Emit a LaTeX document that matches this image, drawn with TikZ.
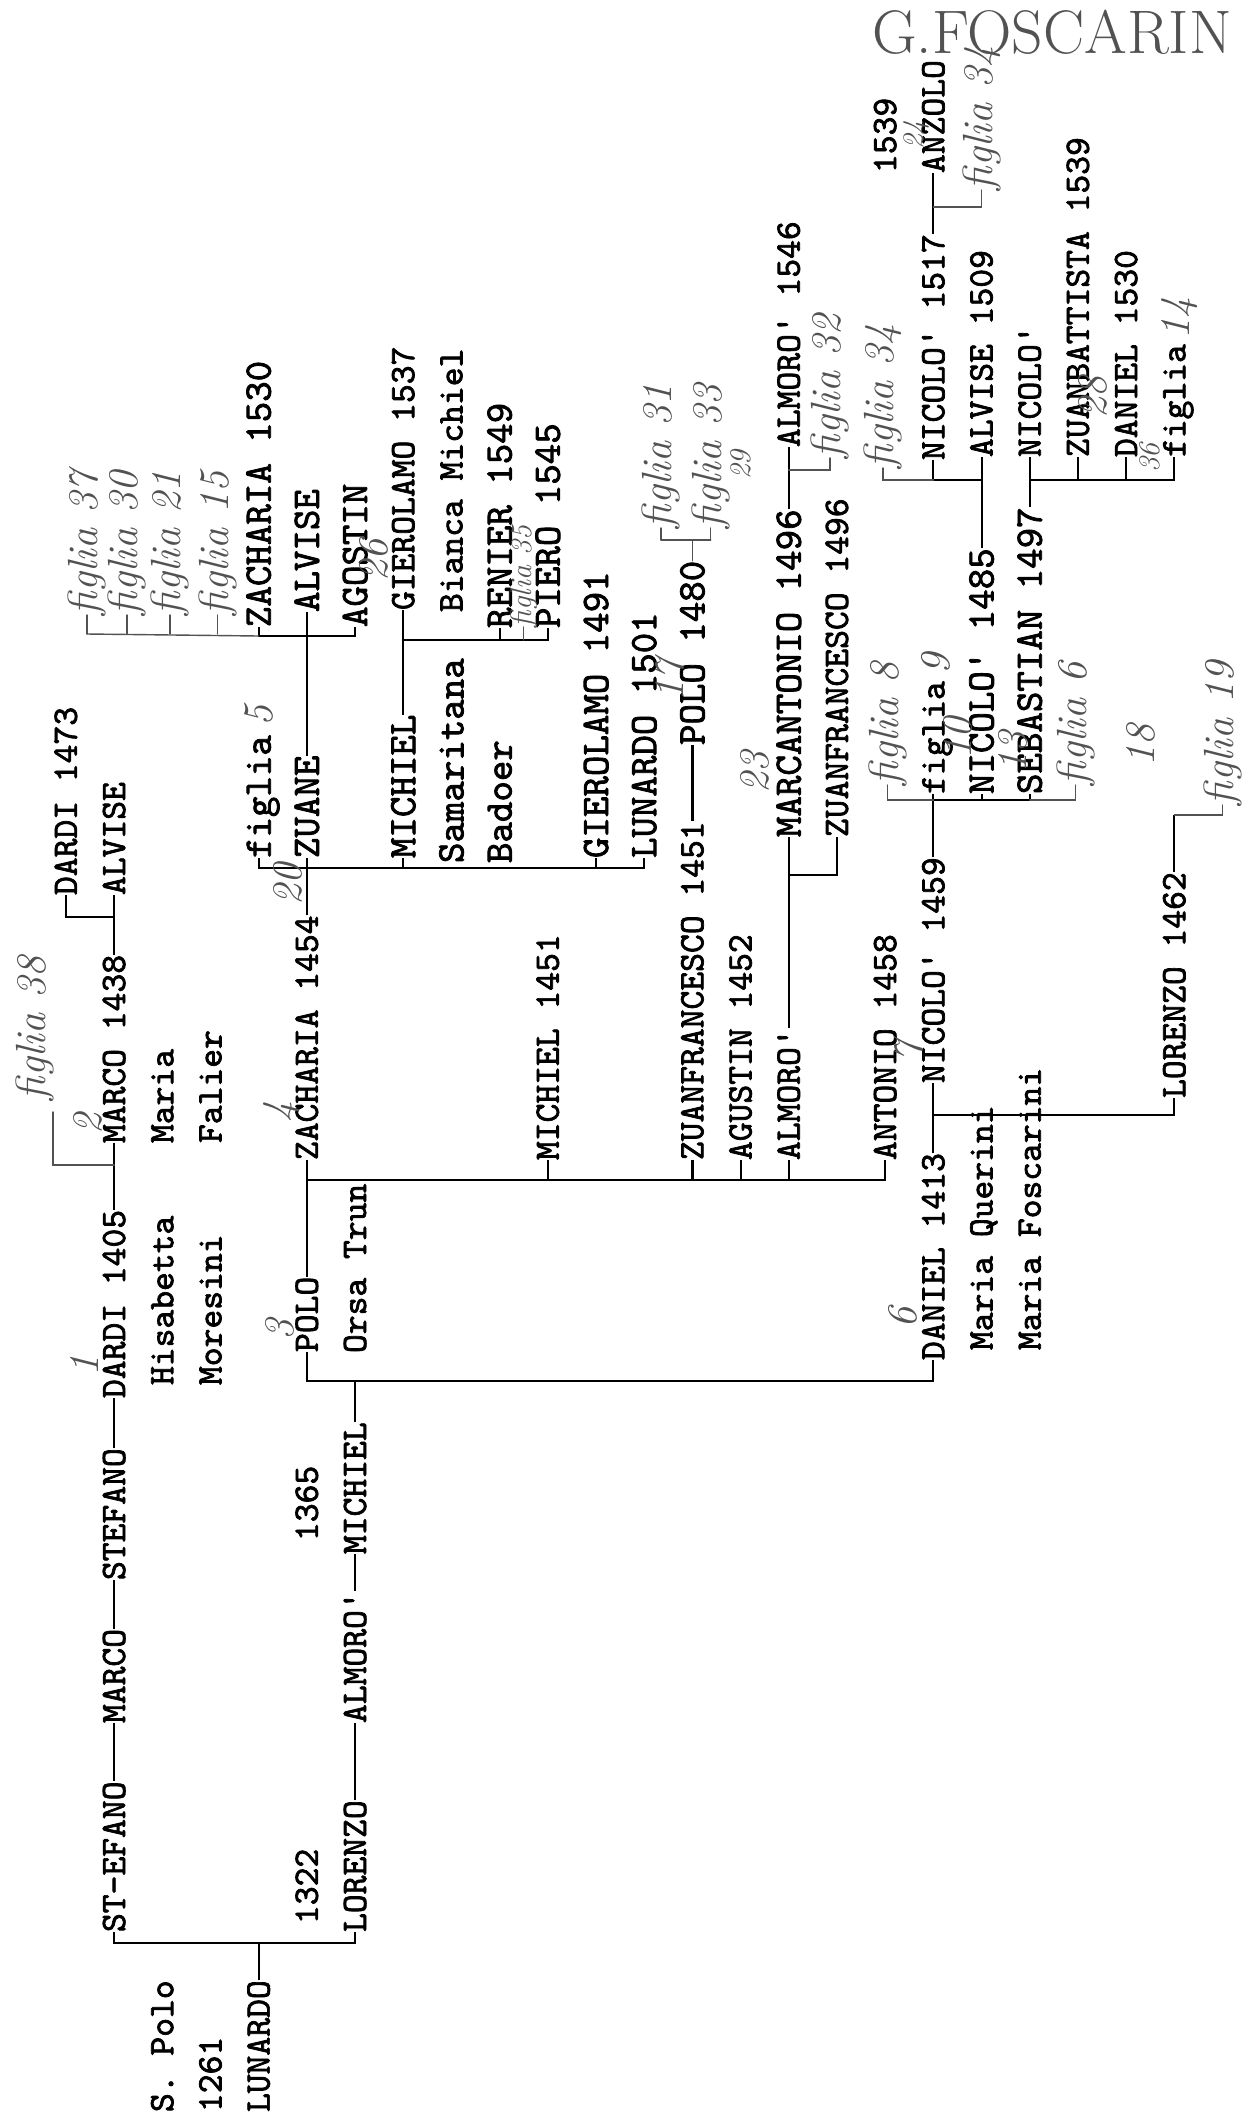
\documentclass[tikz,border=0pt]{standalone}
\usepackage{fontspec}
\newfontfamily\typer{lmmono10-regular.otf}[FakeBold=2]
\definecolor{penink}{gray}{0.32}

\tikzset{
  typed/.style={rotate=90, anchor=west, inner sep=0pt, outer sep=0pt,
    text height=12.4pt, text depth=0pt,
    font=\typer\fontsize{20.4pt}{24pt}\selectfont},
  bigtyped/.style={typed, text height=13.6pt,
    font=\typer\fontsize{22.2pt}{26pt}\selectfont},
  tline/.style={line width=1.2pt},
  pen/.style={draw=penink, line width=0.8pt, line cap=round},
  hand/.style={rotate=90, inner sep=0pt, outer sep=0pt, text=penink,
    font=\itshape\fontsize{24pt}{26pt}\selectfont},
  smallhand/.style={hand, font=\itshape\fontsize{17pt}{19pt}\selectfont},
}

\begin{document}
\begin{tikzpicture}[x=0.964cm, y=-0.02cm]
  \useasboundingbox (-1.369,0) rectangle (24.502,2117);

  % -- first sheet
  \node[typed] (spolo)     at (2,2112) {S. Polo};
  \node[typed] (yearA)     at (3,2112) {1261};
  \node[typed] (lunardoA)  at (4,2112) {LUNARDO};
  \node[typed] (stefanoA)  at (1,1932) {ST-EFANO};
  \node[typed] (marcoA)    at (1,1723) {MARCO};
  \node[typed] (stefanoB)  at (1,1580) {STEFANO};
  \node[typed] (dardiA)    at (1,1398) {DARDI 1405};
  \node[typed] (marcoB)    at (1,1143) {MARCO 1438};
  \node[typed] (alviseA)   at (1,895)  {ALVISE};
  \node[typed] (dardiB)    at (0,895)  {DARDI 1473};
  \node[typed] (hisabetta) at (2,1385) {Hisabetta};
  \node[typed] (moresini)  at (3,1385) {Moresini};
  \node[typed] (mariaA)    at (2,1143) {Maria};
  \node[typed] (falier)    at (3,1143) {Falier};
  \node[typed] (yearB)     at (5,1924) {1322};
  \node[typed] (yearC)     at (5,1541) {1365};
  \node[typed] (poloA)     at (5,1352) {POLO};
  \node[typed] (zachariaA) at (5,1160) {ZACHARIA 1454};
  \node[typed] (lorenzoA)  at (6,1932) {LORENZO};
  \node[typed] (almoroA)   at (6,1723) {ALMORO'};
  \node[typed] (michielA)  at (6,1554) {MICHIEL};
  \node[typed] (orsa)      at (6,1353) {Orsa Trun};

  \node[typed] (michielB)  at (10,1160) {MICHIEL 1451};
  \node[typed] (zuanfrA)   at (13,1160) {ZUANFRANCESCO 1451};
  \node[typed] (agustin)   at (14,1160) {AGUSTIN 1452};
  \node[typed] (almoroB)   at (15,1160) {ALMORO'};
  \node[typed] (antonio)   at (17,1160) {ANTONIO 1458};
  \node[typed] (danielA)   at (18,1360) {DANIEL 1413};
  \node[typed] (nicoloA)   at (18,1083) {NICOLO' 1459};
  \node[typed] (querini)   at (19,1350) {Maria Querini};
  \node[typed] (foscarini) at (20,1350) {Maria Foscarini};
  \node[typed] (lorenzoB)  at (23,1098) {LORENZO 1462};

  % -- later sheets
  \node[bigtyped] (figliaA)    at (4,858)  {figlia};
  \node[bigtyped] (zuane)      at (5,858)  {ZUANE};
  \node[bigtyped] (michielC)   at (7,858)  {MICHIEL};
  \node[bigtyped] (samaritana) at (8,863)  {Samaritana};
  \node[typed]    (bianca)     at (8,612)  {Bianca Michiel};
  \node[bigtyped] (badoer)     at (9,863)  {Badoer};
  \node[bigtyped] (gierolamoA) at (11,858) {GIEROLAMO 1491};
  \node[bigtyped] (lunardoB)   at (12,858) {LUNARDO 1501};
  \node[bigtyped] (zachariaB)  at (4,627)  {ZACHARIA 1530};
  \node[bigtyped] (alviseB)    at (5,612)  {ALVISE};
  \node[bigtyped] (agostin)    at (6,627)  {AGOSTIN};
  \node[typed]    (gierolamoB) at (7,610)  {GIEROLAMO 1537};
  \node[bigtyped] (renier)     at (9,628)  {RENIER 1549};
  \node[bigtyped] (piero)      at (10,628) {PIERO 1545};
  \node[bigtyped] (poloB)      at (13,745) {POLO 1480};
  \node[bigtyped] (marcant)    at (15,837) {MARCANTONIO 1496};
  \node[typed]    (almoroC)    at (15,447) {ALMORO' 1546};
  \node[typed]    (zuanfrB)    at (16,837) {ZUANFRANCESCO 1496};
  \node[typed]    (figliaB)    at (18,794) {figlia};
  \node[bigtyped] (nicoloB)    at (19,794) {NICOLO' 1485};
  \node[bigtyped] (sebastian)  at (20,794) {SEBASTIAN 1497};
  \node[typed]    (nicoloC)    at (18,460) {NICOLO' 1517};
  \node[typed]    (alviseC)    at (19,457) {ALVISE 1509};
  \node[typed]    (nicoloD)    at (20,457) {NICOLO'};
  \node[typed]    (zuanbatt)   at (21,457) {ZUANBATTISTA 1539};
  \node[typed]    (danielB)    at (22,457) {DANIEL 1530};
  \node[typed]    (figliaC)    at (23,457) {figlia};
  \node[typed]    (yearD)      at (17,173) {1539};
  \node[typed]    (anzolo)     at (18,173) {ANZOLO};

  % -- father to son on one line
  \foreach \a/\b in {stefanoA/marcoA, marcoA/stefanoB, stefanoB/dardiA,
      dardiA/marcoB, marcoB/alviseA, lorenzoA/almoroA, almoroA/michielA,
      poloA/zachariaA, zachariaA/zuane, zuane/alviseB, michielC/gierolamoB,
      zuanfrA/poloB, almoroB/marcant, marcant/almoroC, danielA/nicoloA,
      nicoloA/figliaB, nicoloB/alviseC, sebastian/nicoloD, nicoloC/anzolo}
    \draw[tline] (\a.east) -- (\b.west);

  % -- brothers
  \coordinate (jLunardo)   at (4,1943);
  \coordinate (jMichiel)   at (6,1381);
  \coordinate (jPolo)      at (5,1180);
  \coordinate (jMarco)     at (1,917);
  \coordinate (jZacharia)  at (5,868);
  \coordinate (jZuane)     at (5,636);
  \coordinate (jMichielC)  at (7,640);
  \coordinate (jAlmoro)    at (15,875);
  \coordinate (jDaniel)    at (18,1115);
  \coordinate (jNicoloA)   at (18,800);
  \coordinate (jNicoloB)   at (19,480);
  \coordinate (jSebastian) at (20,480);
  \coordinate (jNicoloC)   at (18,207);
  \coordinate (lorenzoT)   at (23,815);

  \draw[tline] (lunardoA.east) -- (jLunardo);
  \draw[tline] (michielA.east) -- (jMichiel);
  \draw[tline] (lorenzoB.east) -- (lorenzoT);
  \foreach \j/\c in {jLunardo/stefanoA, jLunardo/lorenzoA, jMichiel/poloA,
      jMichiel/danielA, jPolo/michielB, jPolo/zuanfrA, jPolo/agustin,
      jPolo/almoroB, jPolo/antonio, jMarco/dardiB, jZacharia/figliaA,
      jZacharia/michielC, jZacharia/gierolamoA, jZacharia/lunardoB,
      jZuane/zachariaB, jZuane/agostin, jMichielC/renier, jMichielC/piero,
      jAlmoro/zuanfrB, jDaniel/lorenzoB, jNicoloA/nicoloB,
      jNicoloA/sebastian, jNicoloB/nicoloC, jSebastian/zuanbatt,
      jSebastian/danielB, jSebastian/figliaC}
    \draw[tline] (\j) -| (\c.west);

  % -- pencil notes
  \node[text=penink, inner sep=0pt, font=\fontsize{35pt}{38pt}\selectfont]
    (owner) at (20.46,32) {G.FOSCARIN};

  \coordinate (penA) at (0.44,634);
  \node[hand, anchor=west] (hfA) at (0.44,615) {figlia 37};
  \node[hand, anchor=west] (hfB) at (1.27,615) {figlia 30};
  \node[hand, anchor=west] (hfC) at (2.16,615) {figlia 21};
  \node[hand, anchor=west] (hfD) at (3.15,615) {figlia 15};
  \draw[pen] (zachariaB.west |- jZuane) -- (penA);
  \foreach \h in {hfA, hfB, hfC, hfD}
    \draw[pen] (\h.west |- penA) -- (\h.west);

  \coordinate (penB) at (1,1165);
  \node[hand, anchor=west] (hf38) at (-0.64,1100) {figlia 38};
  \draw[pen] (penB) -- (-0.27,1165) -- (-0.27,1112);

  \node[smallhand, anchor=west] (hf35) at (9.5,627) {figlia 35};
  \draw[pen] (hf35.west |- jMichielC) -- (hf35.west);

  \coordinate (poloT) at (13,540);
  \node[hand, anchor=west] (hf31) at (12.35,528) {figlia 31};
  \node[hand, anchor=west] (hf33) at (13.38,528) {figlia 33};
  \draw[pen] (poloB.east) -- (poloT);
  \draw[pen] (hf31.west |- poloT) -- (hf33.west |- poloT);
  \foreach \h in {hf31, hf33}
    \draw[pen] (\h.west |- poloT) -- (\h.west);

  \coordinate (jMarcant) at (15,470);
  \node[hand, anchor=west] (hf32) at (15.85,458) {figlia 32};
  \draw[pen] (jMarcant) -| (hf32.west);

  \node[hand, anchor=west] (hf34a) at (16.95,468) {figlia 34};
  \draw[pen] (nicoloC.west |- jNicoloB) -| (hf34a.west);
  \node[hand, anchor=west] (hf34b) at (19.0,190) {figlia 34};
  \draw[pen] (jNicoloC) -| (hf34b.west);
  \node[hand, anchor=west] (hf8) at (17.05,785) {figlia 8};
  \draw[pen] (jNicoloA) -| (hf8.west);
  \node[hand, anchor=west] (hf6) at (20.95,785) {figlia 6};
  \draw[pen] (sebastian.west |- jNicoloA) -| (hf6.west);
  \node[hand, anchor=west] (hf19) at (24.0,805) {figlia 19};
  \draw[pen] (lorenzoT) -| (hf19.west);

  \foreach \n/\x/\y in {1/0.39/1366, 2/0.46/1124, 3/4.44/1330, 4/4.48/1112,
      20/4.6/884, 5/4/716, 26/6.4/560, 17/12.53/680, 23/14.3/772,
      6/17.37/1318, 7/17.5/1052, 9/18.05/664, 10/18.5/738,
      13/19.65/752, 18/22.3/745, 28/21.3/397, 14/23.1/318}
    \node[hand] (num\n) at (\x,\y) {\n};
  \foreach \n/\x/\y in {29/14.0/465, 36/22.5/458, 24/17.65/135}
    \node[smallhand] (num\n) at (\x,\y) {\n};

\end{tikzpicture}
\end{document}
